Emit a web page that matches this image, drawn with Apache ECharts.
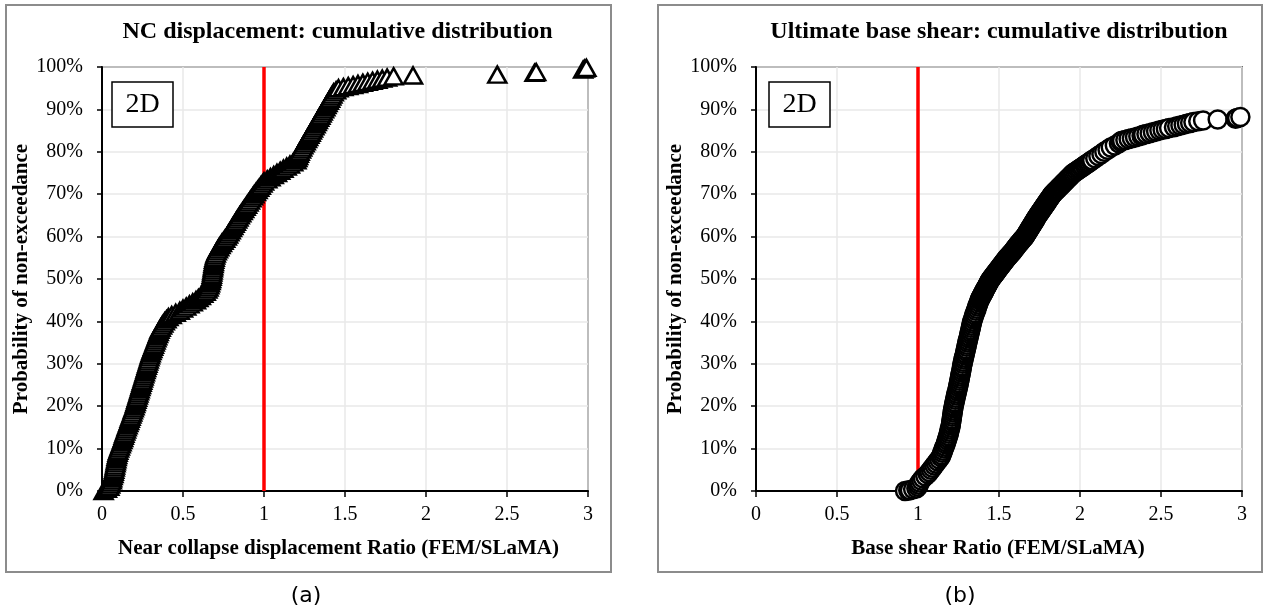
<!DOCTYPE html>
<html>
<head>
<meta charset="utf-8">
<title>cumulative distributions</title>
<script src="https://cdn.jsdelivr.net/npm/echarts@6/dist/echarts.min.js"></script>
<style>
  html, body { margin: 0; padding: 0; background: #fff; }
  #chart { width: 1266px; height: 615px; }
</style>
</head>
<body>
<div id="chart"></div>
<script>
// reference line (FEM = SLaMA)
const limitRatio = 1;

// (a) NC displacement ratio vs probability of non-exceedance [%]
const ncPoints = [
  [0.01,0],[0.03,0.5],[0.045,1],[0.05,1.5],[0.055,2],[0.06,2.5],[0.062,3],[0.065,3.5],[0.07,4],[0.072,4.5],
  [0.075,5],[0.078,5.5],[0.08,6],[0.083,6.5],[0.085,7],[0.088,7.5],[0.09,8],[0.093,8.5],[0.096,9],[0.1,9.5],
  [0.105,10],[0.11,10.5],[0.115,11],[0.12,11.5],[0.125,12],[0.13,12.5],[0.134,13],[0.138,13.5],[0.143,14],[0.148,14.5],
  [0.152,15],[0.157,15.5],[0.162,16],[0.167,16.5],[0.171,17],[0.176,17.5],[0.181,18],[0.186,18.5],[0.19,19],[0.195,19.5],
  [0.2,20],[0.204,20.5],[0.208,21],[0.212,21.5],[0.216,22],[0.22,22.5],[0.224,23],[0.228,23.5],[0.232,24],[0.236,24.5],
  [0.24,25],[0.244,25.5],[0.248,26],[0.252,26.5],[0.256,27],[0.26,27.5],[0.264,28],[0.268,28.5],[0.272,29],[0.276,29.5],
  [0.28,30],[0.284,30.5],[0.288,31],[0.292,31.5],[0.296,32],[0.3,32.5],[0.305,33],[0.31,33.5],[0.315,34],[0.32,34.5],
  [0.325,35],[0.33,35.5],[0.335,36],[0.34,36.5],[0.345,37],[0.35,37.5],[0.355,38],[0.362,38.5],[0.37,39],[0.378,39.5],
  [0.387,40],[0.398,40.5],[0.41,41],[0.43,41.5],[0.455,42],[0.48,42.5],[0.5,43],[0.52,43.5],[0.54,44],[0.56,44.5],
  [0.58,45],[0.595,45.5],[0.61,46],[0.625,46.5],[0.64,47],[0.65,47.5],[0.657,48],[0.662,48.5],[0.666,49],[0.67,49.5],
  [0.673,50],[0.676,50.5],[0.678,51],[0.68,51.5],[0.682,52],[0.684,52.5],[0.686,53],[0.688,53.5],[0.69,54],[0.692,54.5],
  [0.695,55],[0.698,55.5],[0.702,56],[0.708,56.5],[0.715,57],[0.723,57.5],[0.731,58],[0.74,58.5],[0.75,59],[0.76,59.5],
  [0.77,60],[0.778,60.5],[0.786,61],[0.794,61.5],[0.802,62],[0.81,62.5],[0.818,63],[0.826,63.5],[0.834,64],[0.842,64.5],
  [0.85,65],[0.859,65.5],[0.868,66],[0.877,66.5],[0.886,67],[0.895,67.5],[0.904,68],[0.913,68.5],[0.922,69],[0.931,69.5],
  [0.94,70],[0.95,70.5],[0.96,71],[0.97,71.5],[0.98,72],[0.99,72.5],[1.0,73],[1.02,73.5],[1.04,74],[1.06,74.5],
  [1.08,75],[1.1,75.5],[1.12,76],[1.14,76.5],[1.16,77],[1.18,77.5],[1.2,78],[1.205,78.5],[1.21,79],[1.215,79.5],
  [1.22,80],[1.228,80.5],[1.235,81],[1.242,81.5],[1.25,82],[1.257,82.5],[1.265,83],[1.272,83.5],[1.28,84],[1.288,84.5],
  [1.295,85],[1.302,85.5],[1.31,86],[1.318,86.5],[1.325,87],[1.332,87.5],[1.34,88],[1.348,88.5],[1.355,89],[1.362,89.5],
  [1.37,90],[1.378,90.5],[1.385,91],[1.392,91.5],[1.4,92],[1.408,92.5],[1.415,93],[1.422,93.5],[1.43,94],[1.445,94.5],
  [1.46,95],[1.49,95.25],[1.52,95.5],[1.55,95.75],[1.58,96],[1.61,96.25],[1.64,96.5],[1.67,96.75],[1.7,97],[1.73,97.25],
  [1.76,97.5],[1.8,97.8],[1.92,98],[2.44,98.2],[2.67,98.6],[2.68,98.8],[2.97,99.4],[2.98,99.6],[2.99,99.8]
];

// (b) ultimate base shear ratio vs probability of non-exceedance [%]
const shearPoints = [
  [0.92,0],[0.94,0.1],[0.95,0.2],[0.97,0.4],[0.99,0.6],[1.0,1],[1.005,1.5],[1.01,2],[1.02,2.5],[1.03,3],
  [1.045,3.5],[1.06,4],[1.07,4.5],[1.08,5],[1.09,5.5],[1.1,6],[1.11,6.5],[1.12,7],[1.13,7.5],[1.14,8],
  [1.145,8.5],[1.15,9],[1.155,9.5],[1.16,10],[1.165,10.5],[1.17,11],[1.174,11.5],[1.178,12],[1.182,12.5],[1.186,13],
  [1.19,13.5],[1.193,14],[1.196,14.5],[1.2,15],[1.202,15.5],[1.204,16],[1.206,16.5],[1.208,17],[1.21,17.5],[1.212,18],
  [1.214,18.5],[1.216,19],[1.218,19.5],[1.22,20],[1.223,20.5],[1.226,21],[1.229,21.5],[1.232,22],[1.235,22.5],[1.238,23],
  [1.241,23.5],[1.244,24],[1.247,24.5],[1.25,25],[1.252,25.5],[1.255,26],[1.258,26.5],[1.26,27],[1.263,27.5],[1.265,28],
  [1.268,28.5],[1.27,29],[1.272,29.5],[1.275,30],[1.278,30.5],[1.281,31],[1.284,31.5],[1.287,32],[1.29,32.5],[1.293,33],
  [1.296,33.5],[1.299,34],[1.302,34.5],[1.305,35],[1.308,35.5],[1.311,36],[1.314,36.5],[1.317,37],[1.32,37.5],[1.323,38],
  [1.326,38.5],[1.329,39],[1.332,39.5],[1.335,40],[1.339,40.5],[1.343,41],[1.347,41.5],[1.352,42],[1.357,42.5],[1.362,43],
  [1.366,43.5],[1.371,44],[1.375,44.5],
  [1.38,45],[1.383,45.25],[1.386,45.5],[1.39,45.75],[1.393,46],[1.397,46.25],[1.4,46.5],[1.404,46.75],[1.407,47],[1.41,47.25],
  [1.414,47.5],[1.418,47.75],[1.421,48],[1.425,48.25],[1.428,48.5],[1.432,48.75],[1.435,49],[1.438,49.25],[1.442,49.5],[1.446,49.75],
  [1.45,50],[1.455,50.25],[1.46,50.5],[1.465,50.75],[1.47,51],[1.475,51.25],[1.48,51.5],[1.485,51.75],[1.49,52],[1.495,52.25],
  [1.5,52.5],[1.505,52.75],[1.51,53],[1.515,53.25],[1.52,53.5],[1.525,53.75],[1.53,54],[1.535,54.25],[1.54,54.5],[1.545,54.75],
  [1.55,55],[1.556,55.25],[1.562,55.5],[1.568,55.75],[1.574,56],[1.58,56.25],[1.585,56.5],[1.59,56.75],[1.595,57],[1.6,57.25],
  [1.605,57.5],[1.61,57.75],[1.615,58],[1.62,58.25],[1.626,58.5],[1.632,58.75],[1.637,59],[1.642,59.25],[1.648,59.5],[1.654,59.75],
  [1.66,60],[1.664,60.25],[1.668,60.5],[1.672,60.75],[1.676,61],[1.68,61.25],[1.684,61.5],[1.688,61.75],[1.692,62],[1.696,62.25],
  [1.7,62.5],[1.704,62.75],[1.708,63],[1.712,63.25],[1.716,63.5],[1.72,63.75],[1.724,64],[1.728,64.25],[1.732,64.5],[1.736,64.75],
  [1.74,65],[1.745,65.25],[1.749,65.5],[1.754,65.75],[1.758,66],[1.763,66.25],[1.767,66.5],[1.772,66.75],[1.776,67],[1.781,67.25],
  [1.785,67.5],[1.79,67.75],[1.794,68],[1.799,68.25],[1.803,68.5],[1.808,68.75],[1.812,69],[1.817,69.25],[1.821,69.5],[1.826,69.75],
  [1.83,70],[1.837,70.25],[1.843,70.5],[1.85,70.75],[1.856,71],[1.863,71.25],[1.869,71.5],[1.876,71.75],[1.882,72],[1.889,72.25],
  [1.895,72.5],[1.902,72.75],[1.908,73],[1.915,73.25],[1.921,73.5],[1.928,73.75],[1.934,74],[1.941,74.25],[1.947,74.5],[1.954,74.75],
  [1.96,75],[1.97,75.25],[1.98,75.5],[1.99,75.75],[1.999,76],[2.009,76.25],[2.018,76.5],[2.028,76.75],[2.037,77],[2.047,77.25],
  [2.056,77.5],[2.066,77.75],[2.075,78],
  [2.094,78.5],[2.113,79],[2.132,79.5],[2.15,80],[2.17,80.5],[2.19,81],[2.215,81.5],[2.24,82],
  [2.25,82.4],[2.26,82.6],[2.28,82.8],[2.3,83],[2.32,83.2],[2.34,83.4],[2.36,83.6],[2.38,83.8],[2.39,84],[2.41,84.2],
  [2.43,84.4],[2.45,84.6],[2.47,84.8],[2.49,85],[2.51,85.2],[2.53,85.4],[2.55,85.6],[2.58,85.8],[2.6,86],[2.62,86.2],
  [2.64,86.4],[2.66,86.6],[2.68,86.8],[2.7,87],[2.73,87.2],[2.76,87.4],[2.85,87.6],[2.96,87.8],[2.97,88],[2.99,88.2]
];

const serif = '"Liberation Serif", "Times New Roman", serif';

let chart = echarts.init(document.getElementById('chart'), null, { renderer: 'canvas' });

function xAxisFor(i, name, pad) {
  return {
    gridIndex: i, type: 'value', min: 0, max: 3, interval: 0.5,
    name: name, nameLocation: 'middle', nameGap: 47,
    nameTextStyle: { fontFamily: serif, fontWeight: 'bold', fontSize: 21, color: '#000', padding: pad },
    axisLine: { onZero: false, lineStyle: { color: '#000', width: 2 } },
    axisTick: { show: true, length: 6, lineStyle: { color: '#000', width: 1.5 } },
    axisLabel: { fontFamily: serif, fontSize: 20, color: '#000', margin: 14 },
    splitLine: { show: true, lineStyle: { color: '#e9e9e9', width: 1.5 } }
  };
}
function yAxisFor(i) {
  return {
    gridIndex: i, type: 'value', min: 0, max: 100, interval: 10,
    name: 'Probability of non-exceedance', nameLocation: 'middle', nameGap: 60,
    nameTextStyle: { fontFamily: serif, fontWeight: 'bold', fontSize: 21, color: '#000' },
    axisLine: { show: true, lineStyle: { color: '#000', width: 2 } },
    axisTick: { show: true, length: 5, lineStyle: { color: '#000', width: 1.5 } },
    axisLabel: { formatter: '{value}%', fontFamily: serif, fontSize: 20, color: '#000', margin: 19 },
    splitLine: { show: true, lineStyle: { color: '#e9e9e9', width: 1.5 } }
  };
}
function refLine(i) {
  return {
    type: 'line', xAxisIndex: i, yAxisIndex: i, z: 1,
    data: [[limitRatio, 0], [limitRatio, 100]],
    symbol: 'none', silent: true,
    lineStyle: { color: '#ff0000', width: 3.5 }
  };
}
function scatterFor(i, pts, symbol, size) {
  return {
    type: 'scatter', xAxisIndex: i, yAxisIndex: i, z: 2,
    data: pts, symbol: symbol, symbolSize: size, silent: true,
    itemStyle: { color: '#fff', borderColor: '#000', borderWidth: 2.5, opacity: 1 }
  };
}
function boxText(x, y, w, h, txt) {
  return [
    { type: 'rect', z: 100, shape: { x: x, y: y, width: w, height: h },
      style: { fill: '#fff', stroke: '#000', lineWidth: 1.5 } },
    { type: 'text', z: 101, x: x + w / 2, y: y + h / 2,
      style: { text: txt, font: '28px ' + serif, fill: '#000',
               textAlign: 'center', textVerticalAlign: 'middle', align: 'center', verticalAlign: 'middle' } }
  ];
}
function label(x, y, txt, font) {
  return { type: 'text', z: 100, x: x, y: y,
    style: { text: txt, font: font, fill: '#000',
             textAlign: 'center', textVerticalAlign: 'middle', align: 'center', verticalAlign: 'middle' } };
}

let option = {
  animation: false,
  backgroundColor: '#fff',
  grid: [
    { left: 102, top: 67, width: 486, height: 424, show: true, borderColor: '#000', borderWidth: 1.5, backgroundColor: '#fff' },
    { left: 756, top: 67, width: 486, height: 424, show: true, borderColor: '#000', borderWidth: 1.5, backgroundColor: '#fff' }
  ],
  xAxis: [
    xAxisFor(0, 'Near collapse displacement Ratio (FEM/SLaMA)', [0, 13, 0, 0]),
    xAxisFor(1, 'Base shear Ratio (FEM/SLaMA)', [0, 2, 0, 0])
  ],
  yAxis: [yAxisFor(0), yAxisFor(1)],
  series: [
    refLine(0),
    scatterFor(0, ncPoints, 'triangle', [18, 16]),
    refLine(1),
    scatterFor(1, shearPoints, 'circle', 18)
  ],
  graphic: [
    { type: 'rect', z: -1, shape: { x: 6, y: 5, width: 605, height: 567 },
      style: { fill: 'none', stroke: '#8c8c8c', lineWidth: 2 } },
    { type: 'rect', z: -1, shape: { x: 658, y: 5, width: 604, height: 567 },
      style: { fill: 'none', stroke: '#8c8c8c', lineWidth: 2 } },
    label(337.5, 32, 'NC displacement: cumulative distribution', 'bold 24px ' + serif),
    label(999, 32, 'Ultimate base shear: cumulative distribution', 'bold 24px ' + serif),
    label(306, 596, '(a)', '22px "DejaVu Sans", Verdana, sans-serif'),
    label(960, 596, '(b)', '22px "DejaVu Sans", Verdana, sans-serif')
  ].concat(boxText(112, 82, 61, 45, '2D'), boxText(769, 82, 61, 45, '2D'))
};

chart.setOption(option);
window.addEventListener('resize', function () {
  chart.resize();
});
</script>
</body>
</html>
